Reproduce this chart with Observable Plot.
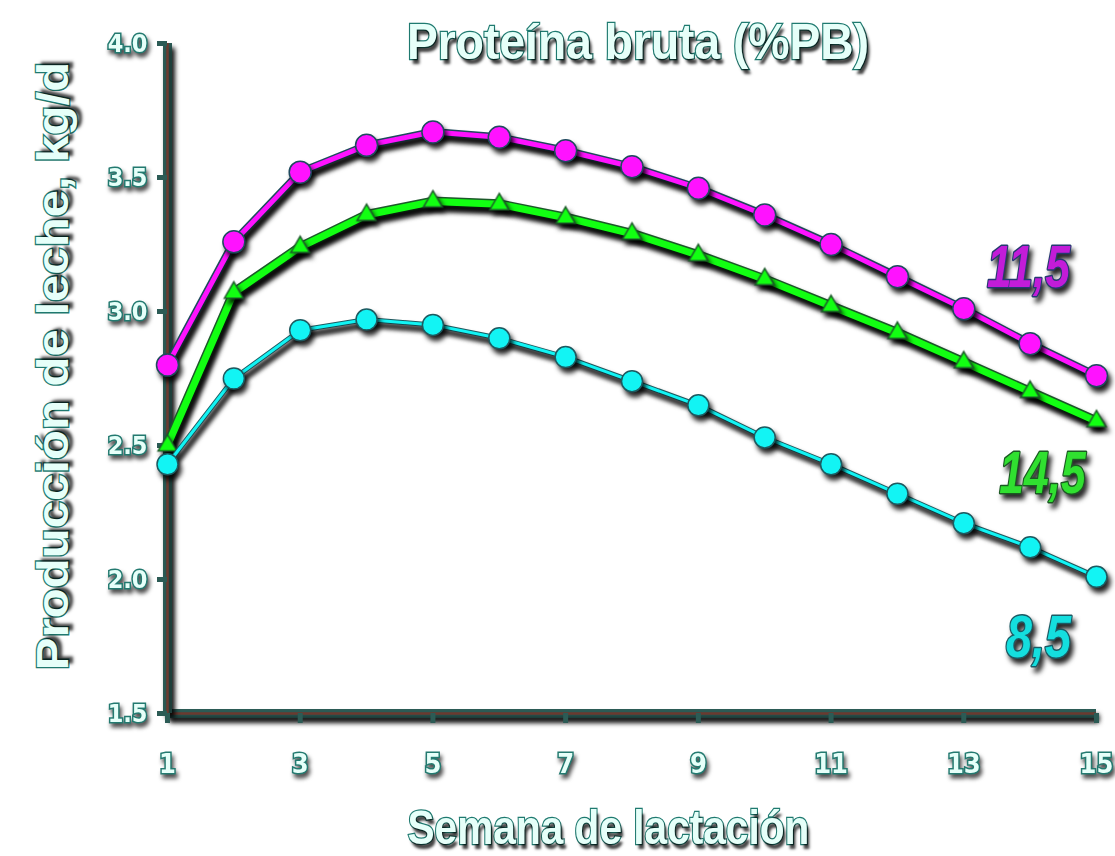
<!DOCTYPE html>
<html>
<head>
<meta charset="utf-8">
<script src="https://cdn.jsdelivr.net/npm/d3@7"></script>
<script src="https://cdn.jsdelivr.net/npm/@observablehq/plot@0.6"></script>
<style>
  html, body { margin: 0; padding: 0; background: #fff; }
  #wrap { position: relative; width: 1115px; height: 856px; overflow: hidden; background: #fff; }
  .lbl {
    position: absolute; white-space: nowrap; line-height: 1;
    font-family: "Liberation Sans", Arial, sans-serif;
    font-weight: bold; color: #e6fff9;
    -webkit-text-stroke: 2.5px #1f7a70; paint-order: stroke fill;
    text-shadow: 3px 5px 3px rgba(0,0,0,0.75);
    transform-origin: center center;
  }
  #title { font-size: 50px; }
  #xlab { font-size: 48px; }
  #ylab { font-size: 44px; }
  svg g[aria-label="line"], svg g[aria-label="dot"], svg g[aria-label="rule"] {
    filter: drop-shadow(3px 5px 2.5px rgba(0,0,0,0.85));
  }
  svg g[aria-label="x-axis tick label"] text, svg g[aria-label="y-axis tick label"] text {
    font-family: "DejaVu Sans Condensed", "Liberation Sans", sans-serif;
    font-weight: bold; fill: #e6fff9; stroke: #237a70; stroke-width: 3px; paint-order: stroke;
  }
  svg g[aria-label="x-axis tick label"], svg g[aria-label="y-axis tick label"] {
    filter: drop-shadow(2px 4px 2px rgba(0,0,0,0.7));
  }
  svg g[aria-label="text"] {
    filter: drop-shadow(3px 5px 2.5px rgba(0,0,0,0.85));
  }
  svg g[aria-label="text"] text { paint-order: stroke; }
</style>
</head>
<body>
<div id="wrap">
  <div id="chart"></div>
  <div class="lbl" id="title">Proteína bruta (%PB)</div>
  <div class="lbl" id="ylab">Producción de leche, kg/d</div>
  <div class="lbl" id="xlab">Semana de lactación</div>
</div>
<script>
// ---- data ----
const weeks = [1, 2, 3, 4, 5, 6, 7, 8, 9, 10, 11, 12, 13, 14, 15];
const pb115 = [2.80, 3.26, 3.52, 3.62, 3.67, 3.65, 3.60, 3.54, 3.46, 3.36, 3.25, 3.13, 3.01, 2.88, 2.76];
const pb145 = [2.50, 3.07, 3.24, 3.36, 3.41, 3.40, 3.35, 3.29, 3.21, 3.12, 3.02, 2.92, 2.81, 2.70, 2.59];
const pb85  = [2.43, 2.75, 2.93, 2.97, 2.95, 2.90, 2.83, 2.74, 2.65, 2.53, 2.43, 2.32, 2.21, 2.12, 2.01];
const seriesNames = ["11,5", "14,5", "8,5"];
const xTicks = [1, 3, 5, 7, 9, 11, 13, 15];
const yTicks = [1.5, 2.0, 2.5, 3.0, 3.5, 4.0];

const seriesValues = [pb115, pb145, pb85];
const data = [];
seriesNames.forEach((s, i) => weeks.forEach((w, j) => data.push({series: s, week: w, value: seriesValues[i][j]})));

// ---- styles ----
const style = {
  "11,5": {color: "#ff12ff", edge: "#1e4a5e", width: 5, under: 8, symbol: "circle", r: 11, label: "#c21cd8", labelEdge: "#253a70", dx: -68, dy: -108, sx: 0.74},
  "14,5": {color: "#12ff12", edge: "#1d5a2a", width: 7, under: 10, symbol: "triangle", r: 7, label: "#30e030", labelEdge: "#1b5a22", dx: -54, dy: 52, sx: 0.74},
  "8,5":  {color: "#12f4f4", edge: "#1d5a60", width: 3, under: 5, symbol: "circle", r: 10.5, label: "#14dede", labelEdge: "#1c5a64", dx: -58, dy: 61, sx: 0.78}
};

const marks = [
  Plot.ruleY([yTicks[0]], {stroke: "#2c5b55", strokeWidth: 9}),
  Plot.ruleY([yTicks[0]], {stroke: "#6b3a2f", strokeWidth: 2.5}),
  Plot.ruleX([xTicks[0]], {stroke: "#2c5b55", strokeWidth: 9}),
  Plot.ruleX([xTicks[0]], {stroke: "#6b3a2f", strokeWidth: 2.5}),
  Plot.axisX({ticks: xTicks, tickSize: 10, tickPadding: 30, fontSize: 27, stroke: "#2c5b55", strokeWidth: 5, label: null, tickFormat: d3.format("d")}),
  Plot.axisY({ticks: yTicks, tickSize: 10, tickPadding: 10, fontSize: 25, stroke: "#2c5b55", strokeWidth: 5, label: null, tickFormat: d3.format(".1f")})
];

for (const s of seriesNames) {
  const st = style[s];
  const sub = data.filter(d => d.series === s);
  marks.push(Plot.line(sub, {x: "week", y: "value", stroke: st.edge, strokeWidth: st.under}));
  marks.push(Plot.line(sub, {x: "week", y: "value", stroke: st.color, strokeWidth: st.width}));
  marks.push(Plot.dot(sub, {x: "week", y: "value", r: st.r, symbol: st.symbol, fill: st.color, stroke: st.edge, strokeWidth: 1.5}));
}
for (const s of seriesNames) {
  const st = style[s];
  const last = data.filter(d => d.series === s && d.week === weeks[weeks.length - 1]);
  marks.push(Plot.text(last, {
    x: "week", y: "value", text: "series", dx: st.dx, dy: st.dy,
    fontSize: 60, fontStyle: "italic", fontWeight: "bold",
    fontFamily: "'Liberation Sans', Arial, sans-serif",
    fill: st.label, stroke: st.labelEdge, strokeWidth: 3
  }));
}

const chart = Plot.plot({
  width: 1115,
  height: 856,
  marginLeft: 167,
  marginRight: 19,
  marginTop: 43,
  marginBottom: 143,
  x: {domain: [1, 15], axis: null},
  y: {domain: [1.5, 4.0], axis: null},
  style: {background: "transparent", overflow: "visible"},
  marks
});
document.getElementById("chart").appendChild(chart);

// condense the series labels horizontally (narrow italic look)
d3.select(chart).selectAll('g[aria-label="text"] text').each(function() {
  const t = this.textContent;
  if (style[t]) {
    const tr = this.getAttribute("transform") || "";
    this.setAttribute("transform", tr + " scale(" + style[t].sx + ",1)");
  }
});

// place and condense the HTML titles
function place(id, cx, cy, targetW, rotate) {
  const el = document.getElementById(id);
  const w = el.offsetWidth, h = el.offsetHeight;
  el.style.left = (cx - w / 2) + "px";
  el.style.top = (cy - h / 2) + "px";
  const sx = targetW / w;
  el.style.transform = (rotate ? "rotate(-90deg) " : "") + "scaleX(" + sx + ")";
}
place("title", 638, 42, 462, false);
place("xlab", 608, 828, 402, false);
place("ylab", 52, 366, 608, true);
</script>
</body>
</html>
